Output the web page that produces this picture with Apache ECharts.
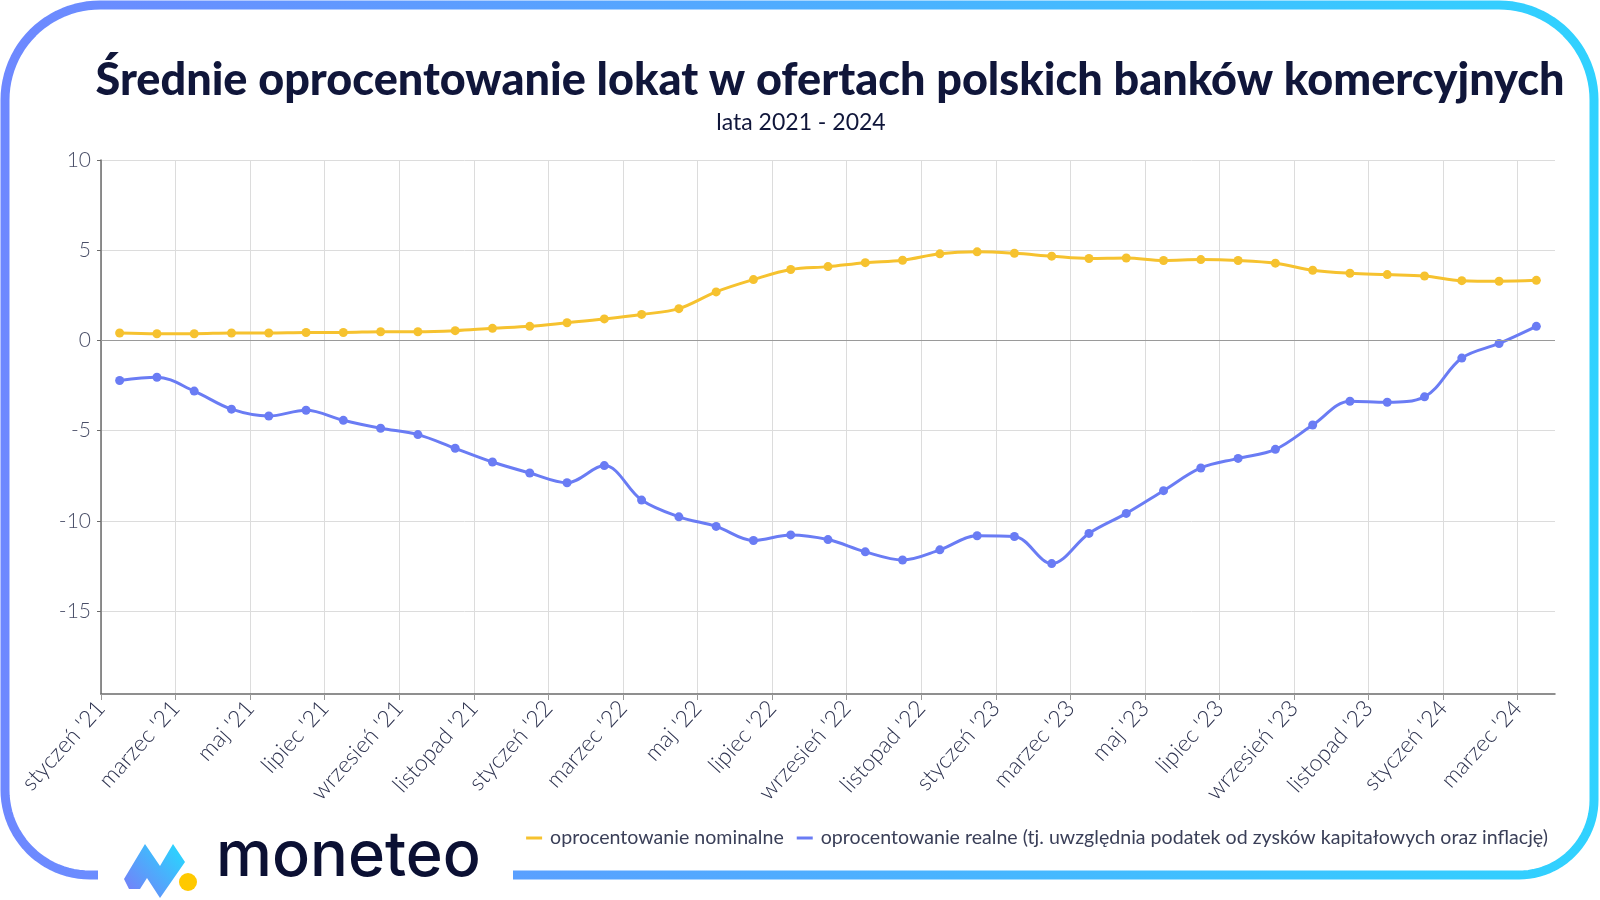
<!DOCTYPE html>
<html>
<head>
<meta charset="utf-8">
<script src="https://cdn.jsdelivr.net/npm/echarts@6/dist/echarts.min.js"></script>
<style>
html,body{margin:0;padding:0;background:#fff;}
#chart{width:1600px;height:900px;}
</style>
</head>
<body>
<div id="chart"></div>
<script>
// ---- data ----
var monthLabels = [
  "styczeń '21","luty '21","marzec '21","kwiecień '21","maj '21","czerwiec '21","lipiec '21","sierpień '21","wrzesień '21","październik '21","listopad '21","grudzień '21",
  "styczeń '22","luty '22","marzec '22","kwiecień '22","maj '22","czerwiec '22","lipiec '22","sierpień '22","wrzesień '22","październik '22","listopad '22","grudzień '22",
  "styczeń '23","luty '23","marzec '23","kwiecień '23","maj '23","czerwiec '23","lipiec '23","sierpień '23","wrzesień '23","październik '23","listopad '23","grudzień '23",
  "styczeń '24","luty '24","marzec '24"
];
var nominal = [0.41,0.37,0.37,0.41,0.41,0.44,0.44,0.48,0.48,0.54,
               0.67,0.78,0.98,1.19,1.44,1.76,2.69,3.37,3.93,4.09,
               4.31,4.44,4.80,4.91,4.83,4.67,4.54,4.57,4.43,
               4.48,4.43,4.28,3.89,3.72,3.65,3.57,3.31,3.28,3.33];
var real = [-2.22,-2.04,-2.81,-3.81,-4.19,-3.87,-4.43,-4.87,-5.22,-5.98,
            -6.74,-7.35,-7.89,-6.94,-8.85,-9.78,-10.31,-11.09,-10.78,-11.04,
            -11.72,-12.17,-11.61,-10.83,-10.87,-12.37,-10.70,-9.59,-8.33,
            -7.07,-6.54,-6.04,-4.69,-3.37,-3.43,-3.13,-0.98,-0.17,0.78];
var yTicks = [-15,-10,-5,0,5,10];
var xTicks = [0,2,4,6,8,10,12,14,16,18,20,22,24,26,28,30,32,34,36,38];
var seriesNames = ["oprocentowanie nominalne","oprocentowanie realne (tj. uwzględnia podatek od zysków kapitałowych oraz inflację)"];
var titleText = "Średnie oprocentowanie lokat w ofertach polskich banków komercyjnych";
var subtitleText = "lata 2021 - 2024";

// ---- build ----
function toPoints(arr){ return arr.map(function(v,i){ return [i+0.5, v]; }); }
var YELLOW = '#F6C22F', BLUE = '#6A7CF4';

// decorative frame outline (rounded border with a gap for the logo)
function arcPts(cx, cy, r, a0, a1){
  var pts = [], n = 24;
  for (var k = 0; k <= n; k++){
    var a = a0 + (a1 - a0) * k / n;
    pts.push([cx + r * Math.cos(a), cy + r * Math.sin(a)]);
  }
  return pts;
}
var PI = Math.PI;
var framePts = [[98,875]]
  .concat(arcPts(90, 790, 85, PI/2, PI))
  .concat(arcPts(100, 100, 95, PI, 1.5*PI))
  .concat(arcPts(1499, 100, 95, 1.5*PI, 2*PI))
  .concat(arcPts(1519, 800, 75, 0, PI/2))
  .concat([[513,875]]);

var chart = echarts.init(document.getElementById('chart'), null, {renderer:'canvas'});
var frameGrad = new echarts.graphic.LinearGradient(0,0,1600,0,[{offset:0,color:'#6E88FF'},{offset:1,color:'#30D2FF'}], true);
var logoGrad = new echarts.graphic.LinearGradient(124,898,185,844,[{offset:0,color:'#7B78F8'},{offset:1,color:'#22DDFF'}], true);

var option = {
  animation:false,
  textStyle:{fontFamily:'Lato'},
  grid:{left:101,right:45,top:160,bottom:206,containLabel:false},
  legend:{
    right:47, top:823,
    icon:'rect', itemWidth:16, itemHeight:3, itemGap:13,
    textStyle:{fontFamily:'Lato',fontSize:19.6,color:'#3A3F58',padding:[0,0,0,3]},
    data:seriesNames
  },
  xAxis:{
    type:'value', min:0, max:39,
    axisLine:{show:true,onZero:false,lineStyle:{color:'#6b6b6b',width:1.5}},
    axisTick:{show:true,customValues:xTicks,length:6,lineStyle:{color:'#999'}},
    splitLine:{show:true,lineStyle:{color:'#dcdcdc',width:1}},
    axisLabel:{
      customValues:xTicks, rotate:48, margin:10,
      fontFamily:'Lato', fontWeight:300, fontSize:23, color:'#2E3350',
      formatter:function(v){ return monthLabels[Math.round(v)] || ''; }
    }
  },
  yAxis:{
    type:'value', min:-19.6, max:10,
    axisLine:{show:true,lineStyle:{color:'#6b6b6b',width:1.5}},
    axisTick:{show:true,customValues:yTicks,length:4,lineStyle:{color:'#6b6b6b'}},
    splitLine:{show:true,lineStyle:{color:'#dcdcdc',width:1}},
    axisLabel:{customValues:yTicks, margin:10, fontFamily:'Lato', fontWeight:300, fontSize:21, color:'#4A4F68'}
  },
  series:[
    {
      name:seriesNames[0], type:'line', data:toPoints(nominal), smooth:0.35,
      symbol:'circle', symbolSize:9, showAllSymbol:true,
      lineStyle:{color:YELLOW,width:3}, itemStyle:{color:YELLOW},
      z:3,
      markLine:{silent:true,symbol:['none','none'],label:{show:false},
        lineStyle:{color:'#9a9a9a',width:1.2,type:'solid'},
        data:[{yAxis:0}]}
    },
    {
      name:seriesNames[1], type:'line', data:toPoints(real), smooth:0.35,
      symbol:'circle', symbolSize:9, showAllSymbol:true,
      lineStyle:{color:BLUE,width:3}, itemStyle:{color:BLUE},
      z:3
    }
  ],
  graphic:[
    {type:'text', x:830, y:80, z:10,
      style:{text:titleText, font:'900 45px Lato', fill:'#10163A', textAlign:'center', textVerticalAlign:'middle'}},
    {type:'text', x:801, y:123, z:10,
      style:{text:subtitleText, font:'23px Lato', fill:'#10163A', textAlign:'center', textVerticalAlign:'middle'}},
    {type:'polyline', z:100, silent:true,
      shape:{points:framePts},
      style:{fill:null, stroke:frameGrad, lineWidth:9, lineCap:'butt', lineJoin:'round'}},
    {type:'polygon', z:100, silent:true,
      shape:{points:[[124,879],[145,844],[160,866],[173,844],[185,862],[160,898],[147,878],[140,889],[129,889]]},
      style:{fill:logoGrad, lineJoin:'round'}},
    {type:'circle', z:100, silent:true, shape:{cx:188, cy:882, r:9}, style:{fill:'#FFC900'}},
    {type:'text', x:216, y:889, z:100,
      style:{text:'moneteo', font:'500 63px Inter', fill:'#0B1033', textAlign:'left', textVerticalAlign:'bottom'}}
  ]
};
chart.setOption(option);
</script>
</body>
</html>
